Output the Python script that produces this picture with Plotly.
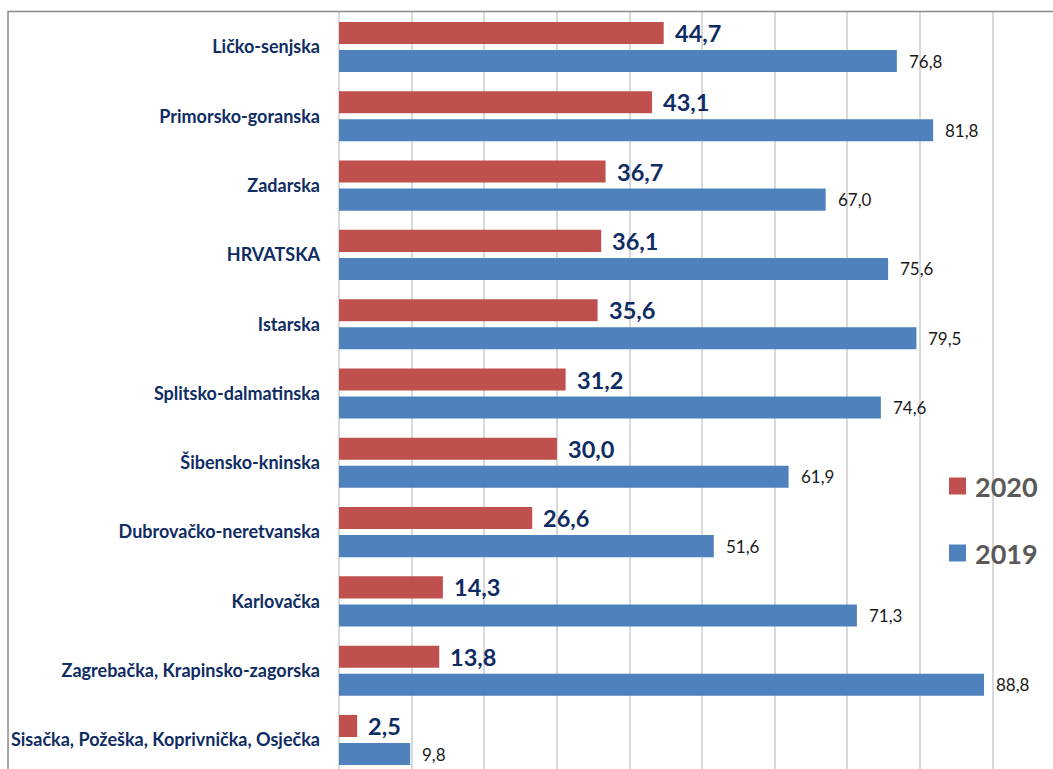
import plotly.graph_objects as go

# Counties, top to bottom
regions = [
    "Ličko-senjska",
    "Primorsko-goranska",
    "Zadarska",
    "HRVATSKA",
    "Istarska",
    "Splitsko-dalmatinska",
    "Šibensko-kninska",
    "Dubrovačko-neretvanska",
    "Karlovačka",
    "Zagrebačka, Krapinsko-zagorska",
    "Sisačka, Požeška, Koprivnička, Osječka",
]
values_2020 = [44.7, 43.1, 36.7, 36.1, 35.6, 31.2, 30.0, 26.6, 14.3, 13.8, 2.5]
values_2019 = [76.8, 81.8, 67.0, 75.6, 79.5, 74.6, 61.9, 51.6, 71.3, 88.8, 9.8]

RED = "#C0504D"
BLUE = "#4F81BD"
NAVY = "#0F2C63"
FONT = "Lato"

W, H = 1053, 769
L, T = 339, 12
plot_w, plot_h = W - L, H - T
px_per_unit = 645 / 88.8
band_px = 69.3


def fmt(v):
    return f"{v:.1f}".replace(".", ",")


fig = go.Figure()
fig.add_trace(go.Bar(y=regions, x=values_2020, orientation="h", name="2020",
                     marker=dict(color=RED, line=dict(width=0))))
fig.add_trace(go.Bar(y=regions, x=values_2019, orientation="h", name="2019",
                     marker=dict(color=BLUE, line=dict(width=0))))

annotations = []
for r, v in zip(regions, values_2020):
    annotations.append(dict(x=v, y=r, xref="x", yref="y", text=fmt(v),
                            showarrow=False, xanchor="left", yanchor="middle",
                            xshift=9, yshift=14,
                            font=dict(family=FONT, size=23.5, color=NAVY, weight="bold")))
for r, v in zip(regions, values_2019):
    annotations.append(dict(x=v, y=r, xref="x", yref="y", text=fmt(v),
                            showarrow=False, xanchor="left", yanchor="middle",
                            xshift=10, yshift=-14,
                            font=dict(family=FONT, size=17, color="#1A1A1A")))

# Legend drawn at the right side
legend_items = [("2020", RED, 486), ("2019", BLUE, 553)]
shapes = []
for label, color, cy in legend_items:
    x0 = (949 - L) / plot_w
    x1 = (966 - L) / plot_w
    y0 = 1 - (cy - 8.5 - T) / plot_h
    y1 = 1 - (cy + 8.5 - T) / plot_h
    shapes.append(dict(type="rect", xref="paper", yref="paper",
                       x0=x0, x1=x1, y0=y1, y1=y0,
                       fillcolor=color, line=dict(width=0)))
    annotations.append(dict(x=(973 - L) / plot_w, y=1 - (cy - T) / plot_h,
                            xref="paper", yref="paper", text=label,
                            showarrow=False, xanchor="left", yanchor="middle",
                            font=dict(family=FONT, size=27, color="#595959", weight="bold")))

# Chart frame
shapes.append(dict(type="rect", xref="paper", yref="paper",
                   x0=(8 - L) / plot_w, x1=1.2, y0=-0.2, y1=1 + 0.5 / plot_h,
                   line=dict(color="#8A8A8A", width=1.5), layer="above"))

top_units = 35 / band_px
fig.update_layout(
    width=W, height=H,
    margin=dict(l=L, r=0, t=T, b=0, pad=0),
    paper_bgcolor="white", plot_bgcolor="white",
    barmode="group", bargap=0.19, bargroupgap=0.214,
    showlegend=False,
    xaxis=dict(range=[0, plot_w / px_per_unit], dtick=10, tick0=0,
               showgrid=True, gridcolor="#D9D9D9", gridwidth=1.5,
               zeroline=True, zerolinecolor="#D9D9D9", zerolinewidth=1.5,
               showticklabels=False, fixedrange=True),
    yaxis=dict(type="category", categoryorder="array", categoryarray=regions,
               range=[-top_units + plot_h / band_px, -top_units],
               showgrid=False, zeroline=False, ticks="", ticklabelstandoff=18,
               tickfont=dict(family=FONT, size=18, color=NAVY, weight="bold")),
    annotations=annotations,
    shapes=shapes,
)

fig.write_html("out.html")
